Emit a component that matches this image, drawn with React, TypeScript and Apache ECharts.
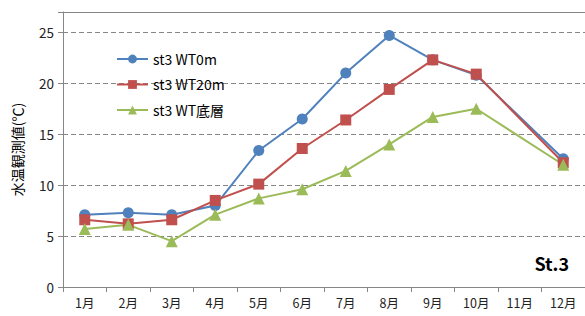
import React, { useEffect, useRef } from "react";
import * as echarts from "echarts";

const months = ["1月", "2月", "3月", "4月", "5月", "6月", "7月", "8月", "9月", "10月", "11月", "12月"];
const wt0 = [7.1, 7.3, 7.1, 8.0, 13.4, 16.5, 21.0, 24.7, 22.3, 20.8, null, 12.6];
const wt20 = [6.6, 6.2, 6.6, 8.5, 10.1, 13.6, 16.4, 19.4, 22.3, 20.9, null, 12.2];
const wtBottom = [5.7, 6.1, 4.5, 7.1, 8.7, 9.6, 11.4, 14.0, 16.7, 17.5, null, 12.0];
const seriesNames = ["st3 WT0m", "st3 WT20m", "st3 WT底層"];
const yTicks = [0, 5, 10, 15, 20, 25];

const FONT = "'Noto Sans CJK JP', 'Noto Sans', sans-serif";
const AXIS = "#868686";

export default function App() {
  const ref = useRef<HTMLDivElement>(null);
  useEffect(() => {
    const chart = echarts.init(ref.current!, null, { renderer: "svg" });
    chart.setOption({
      animation: false,
      textStyle: { fontFamily: FONT },
      grid: { left: 63, right: 0, top: 12, bottom: 29 },
      legend: {
        orient: "vertical",
        left: 111,
        top: 47,
        itemWidth: 31,
        itemHeight: 11,
        itemGap: 11.5,
        textStyle: { fontSize: 14, color: "#000", fontFamily: FONT },
        data: seriesNames,
      },
      graphic: [
        {
          type: "text",
          right: 16,
          top: 254,
          style: { text: "St.3", font: `bold 18px ${FONT}`, fill: "#000" },
        },
      ],
      xAxis: [
        {
          type: "category",
          data: months,
          boundaryGap: true,
          axisLine: { lineStyle: { color: AXIS, width: 1 } },
          axisTick: { show: true, length: 5, lineStyle: { color: AXIS } },
          axisLabel: { color: "#222", fontSize: 12.5, margin: 9 },
        },
        {
          type: "category",
          data: months,
          position: "top",
          axisLine: { lineStyle: { color: AXIS, width: 1 } },
          axisTick: { show: false },
          axisLabel: { show: false },
        },
      ],
      yAxis: {
        type: "value",
        min: 0,
        max: 27,
        interval: 5,
        name: "水温観測値(℃)",
        nameLocation: "middle",
        nameGap: 39,
        nameTextStyle: { fontSize: 14, color: "#000" },
        axisLine: { show: true, lineStyle: { color: AXIS } },
        axisTick: { show: true, length: 5, lineStyle: { color: AXIS } },
        axisLabel: {
          color: "#222",
          fontSize: 13.5,
          margin: 9,
          formatter: (v: number) => (yTicks.includes(v) ? String(v) : ""),
        },
        splitLine: { show: true, lineStyle: { color: AXIS, type: [5, 3], width: 1 } },
      },
      series: [
        {
          name: seriesNames[0],
          type: "line",
          data: wt0,
          connectNulls: true,
          symbol: "circle",
          symbolSize: 11,
          itemStyle: { color: "#4F81BD" },
          lineStyle: { color: "#4F81BD", width: 2 },
        },
        {
          name: seriesNames[1],
          type: "line",
          data: wt20,
          connectNulls: true,
          symbol: "rect",
          symbolSize: 11,
          itemStyle: { color: "#C0504D" },
          lineStyle: { color: "#C0504D", width: 2 },
        },
        {
          name: seriesNames[2],
          type: "line",
          data: wtBottom,
          connectNulls: true,
          symbol: "triangle",
          symbolSize: 12,
          itemStyle: { color: "#9BBB59" },
          lineStyle: { color: "#9BBB59", width: 2 },
        },
      ],
    });
    return () => chart.dispose();
  }, []);
  return <div ref={ref} style={{ width: 585, height: 316, position: "absolute", left: 0, top: 0 }} />;
}
